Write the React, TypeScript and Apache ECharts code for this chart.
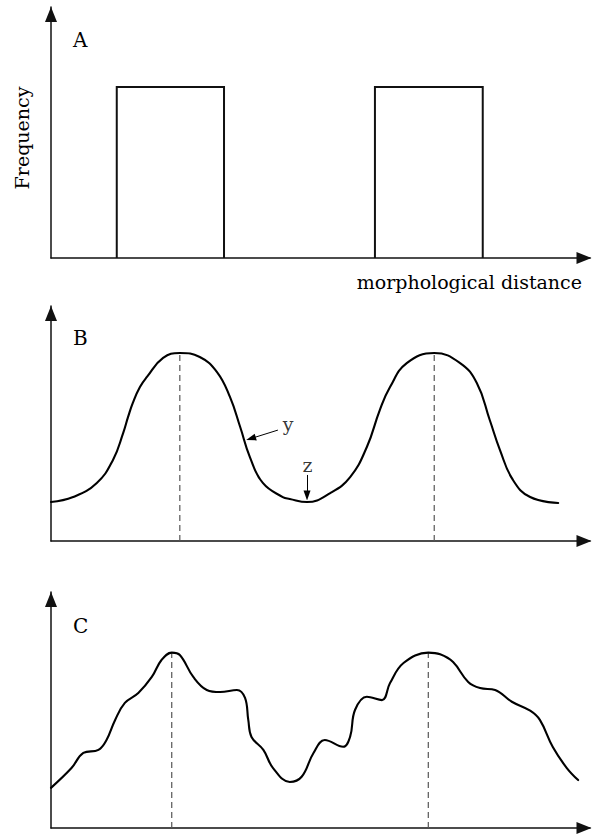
import React, { useEffect, useRef } from 'react';
import * as echarts from 'echarts';

// Panel A: two rectangular frequency blocks
const rectLeft = [12.2, 60.1];
const rectRight = [32.1, 80.1];
const rectHeight = 68.1;

// Panel B: smooth bimodal curve
const bX = [0, 4.1, 8.5, 11.5, 13.4, 14.3, 15.2, 16.5, 17.8, 20.8, 23.9, 27.6, 30.8, 33.2, 35.1, 36.9, 39.3, 43.0, 44.3, 47.5, 51.8, 55.5, 58.6, 61.0, 62.9, 66.0, 71.1, 75.9, 79.0, 81.4, 83.3, 85.7, 88.9, 94.1];
const bY = [16.6, 18.7, 24.7, 34.5, 46.0, 52.8, 58.9, 65.5, 69.8, 77.9, 80.0, 78.3, 71.9, 61.3, 48.5, 35.7, 24.7, 18.7, 17.9, 16.6, 20.4, 27.2, 40.0, 55.7, 65.5, 75.7, 80.0, 75.7, 67.2, 51.5, 38.7, 26.0, 18.7, 16.2];
const bPeakX = [23.9, 71.1];
const bPeakY = [80.0, 80.0];

// Panel C: irregular bimodal curve
const cX = [0, 3.8, 6.0, 8.8, 10.3, 11.9, 13.7, 16.2, 18.7, 20.5, 22.4, 23.9, 26.4, 28.9, 31.4, 34.5, 36.0, 36.6, 37.2, 39.4, 41.2, 44.3, 46.5, 48.7, 50.8, 54.2, 55.5, 56.4, 58.6, 61.4, 62.9, 65.4, 70.0, 72.2, 74.6, 77.4, 79.6, 82.4, 85.5, 88.9, 90.7, 93.1, 95.7, 97.8];
const cY = [17.0, 25.4, 31.8, 33.1, 37.3, 45.8, 53.0, 57.2, 64.0, 71.2, 74.3, 73.3, 64.0, 58.5, 57.6, 58.5, 55.1, 45.8, 38.6, 33.1, 25.4, 19.5, 21.7, 31.8, 37.3, 34.4, 38.7, 50.0, 55.6, 54.2, 61.4, 69.9, 74.3, 73.6, 70.3, 61.9, 59.3, 58.5, 53.5, 49.7, 45.8, 34.3, 25.4, 20.3];
const cPeakX = [22.4, 70.0];
const cPeakY = [74.3, 74.3];

// Annotations in panel B
const annLabels = ['y', 'z'];
const annLabelX = [44.0, 47.6];
const annLabelY = [49.8, 32.3];
const annFromX = [42.1, 47.5];
const annFromY = [47.2, 28.1];
const annToX = [37.1, 47.5];
const annToY = [43.6, 19.4];

const FONT = '"DejaVu Serif", serif';

export default function App() {
  const ref = useRef<HTMLDivElement>(null);
  useEffect(() => {
    const chart = echarts.init(ref.current!, null, { renderer: 'svg' });
    const axisLine = (offset: number) => ({
      show: true,
      onZero: false,
      symbol: ['none', 'triangle'],
      symbolSize: [12, 15],
      symbolOffset: [0, offset],
      lineStyle: { color: '#111', width: 1.5 },
    });
    const grids = [
      { left: 51, top: 7, width: 539, height: 251 },
      { left: 51, top: 306, width: 539, height: 235 },
      { left: 51, top: 592, width: 539, height: 236 },
    ];
    const xAxes = grids.map((_, i) => ({
      type: 'value', gridIndex: i, min: 0, max: 100,
      axisLine: axisLine(-6), axisTick: { show: false }, axisLabel: { show: false }, splitLine: { show: false },
    }));
    const yAxes = grids.map((_, i) => ({
      type: 'value', gridIndex: i, min: 0, max: 100,
      axisLine: axisLine(-7.5), axisTick: { show: false }, axisLabel: { show: false }, splitLine: { show: false },
    }));
    const solid = { color: '#000', width: 2.1, cap: 'round', join: 'round' };
    const dashed = { color: '#555', width: 1.2, type: [6, 4] };
    const series: any[] = [];
    rectLeft.forEach((l, i) => {
      series.push({
        type: 'line', xAxisIndex: 0, yAxisIndex: 0, showSymbol: false, symbol: 'none', silent: true,
        data: [[l, 0], [l, rectHeight], [rectRight[i], rectHeight], [rectRight[i], 0]],
        lineStyle: { color: '#111', width: 2, join: 'miter' },
      });
    });
    series.push({
      type: 'line', xAxisIndex: 1, yAxisIndex: 1, showSymbol: false, symbol: 'none', silent: true,
      smooth: 0.45,
      data: bX.map((x, i) => [x, bY[i]]),
      lineStyle: solid,
      markLine: {
        silent: true,
        symbol: ['none', 'triangle'],
        symbolSize: [7, 10],
        label: { show: false },
        lineStyle: { color: '#000', width: 1, type: 'solid' },
        data: annFromX.map((fx, i) => [
          { coord: [fx, annFromY[i]] },
          { coord: [annToX[i], annToY[i]] },
        ]),
      },
    });
    bPeakX.forEach((px, i) => {
      series.push({
        type: 'line', xAxisIndex: 1, yAxisIndex: 1, showSymbol: false, symbol: 'none', silent: true,
        data: [[px, 0], [px, bPeakY[i]]], lineStyle: dashed, z: 1,
      });
    });
    series.push({
      type: 'line', xAxisIndex: 2, yAxisIndex: 2, showSymbol: false, symbol: 'none', silent: true,
      smooth: 0.4,
      data: cX.map((x, i) => [x, cY[i]]),
      lineStyle: solid,
    });
    cPeakX.forEach((px, i) => {
      series.push({
        type: 'line', xAxisIndex: 2, yAxisIndex: 2, showSymbol: false, symbol: 'none', silent: true,
        data: [[px, 0], [px, cPeakY[i]]], lineStyle: dashed, z: 1,
      });
    });
    series.push({
      type: 'scatter', xAxisIndex: 1, yAxisIndex: 1, silent: true, symbolSize: 1,
      itemStyle: { color: 'rgba(0,0,0,0)' },
      data: annLabels.map((t, i) => [annLabelX[i], annLabelY[i], t]),
      label: {
        show: true, position: 'inside', formatter: (p: any) => p.value[2],
        fontFamily: FONT, fontSize: 19, color: '#000',
      },
    });
    const txt = (text: string, x: number, y: number, align: string, size: number, extra: any = {}) => ({
      type: 'text', x, y, silent: true, ...extra,
      style: { text, font: `${size}px ${FONT}`, fill: '#000', textAlign: align, textVerticalAlign: 'middle', align, verticalAlign: 'middle' },
    });
    chart.setOption({
      animation: false,
      backgroundColor: '#fff',
      grid: grids,
      xAxis: xAxes,
      yAxis: yAxes,
      series,
      graphic: [
        txt('A', 73, 40, 'left', 20),
        txt('B', 73, 338, 'left', 20),
        txt('C', 73, 626, 'left', 20),
        txt('Frequency', 22, 138, 'center', 19, { rotation: Math.PI / 2 }),
        txt('morphological distance', 582, 282, 'right', 19),
      ],
    });
    return () => chart.dispose();
  }, []);
  return <div ref={ref} style={{ position: 'absolute', left: 0, top: 0, width: 593, height: 837, background: '#fff' }} />;
}
